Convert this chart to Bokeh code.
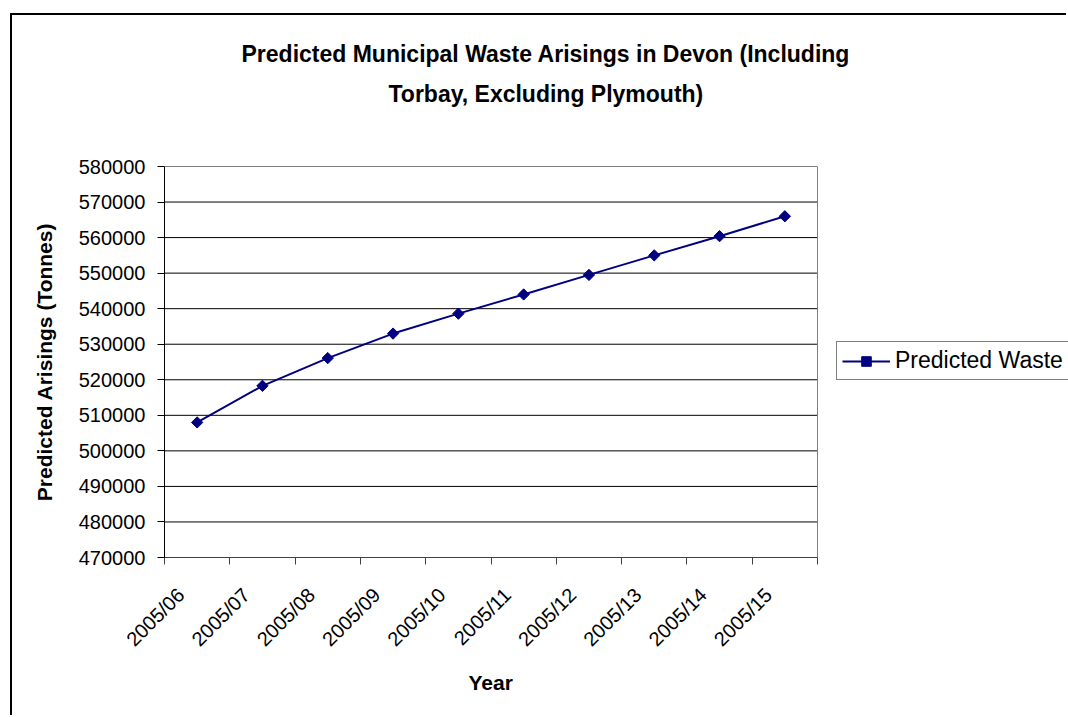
import numpy as np
from bokeh.plotting import figure
from bokeh.models import (Range1d, FixedTicker, Title, Legend, LegendItem,
                          BasicTickFormatter, Span)
from bokeh.embed import file_html
from bokeh.resources import INLINE

# ---- data ----
categories = ["2005/06", "2005/07", "2005/08", "2005/09", "2005/10",
              "2005/11", "2005/12", "2005/13", "2005/14", "2005/15"]
predicted_waste = [508000, 518300, 526100, 533000, 538600,
                   544000, 549500, 555000, 560400, 566000]
y_ticks = [470000, 480000, 490000, 500000, 510000, 520000,
           530000, 540000, 550000, 560000, 570000, 580000]
title_line1 = "Predicted Municipal Waste Arisings in Devon (Including"
title_line2 = "Torbay, Excluding Plymouth)"
x_title = "Year"
y_title = "Predicted Arisings (Tonnes)"
series_name = "Predicted Waste"

FONT = "Liberation Sans"
NAVY = "#000080"

# layout constants (pixels)
PLOT_AREA_W = 653      # width of the bordered plot area
FRAME_W = 904          # frame runs on to the right edge to host the legend

n = len(categories)
centers = [i + 0.5 for i in range(n)]
label_pos = [c - 0.25 for c in centers]
bounds = [float(i) for i in range(n + 1)]
x_end = n * FRAME_W / PLOT_AREA_W

p = figure(width=1056, height=702, output_backend="svg", toolbar_location=None,
           x_range=Range1d(0, x_end), y_range=Range1d(y_ticks[0], y_ticks[-1]),
           min_border_left=152, min_border_right=0,
           min_border_top=151, min_border_bottom=160)
p.margin = (13, 0, 0, 10)
p.styles = {"border-left": "2px solid black", "border-top": "2px solid black"}

p.background_fill_color = "white"
p.border_fill_color = "white"
p.outline_line_color = None

# grid: horizontal lines limited to the plot area
p.xgrid.grid_line_color = None
p.ygrid.grid_line_color = None
p.segment(x0=[0] * len(y_ticks), y0=y_ticks, x1=[n] * len(y_ticks), y1=y_ticks,
          line_color="black", line_width=1)
p.add_layout(Span(location=n, dimension="height", line_color="#808080", line_width=1))

# x axis
xa = p.xaxis[0]
xa.bounds = (0, n)
xa.ticker = FixedTicker(ticks=label_pos, minor_ticks=bounds)
xa.major_label_overrides = {c: lab for c, lab in zip(label_pos, categories)}
xa.major_tick_out = 0
xa.major_tick_in = 0
xa.minor_tick_out = 7
xa.minor_tick_in = 0
xa.minor_tick_line_color = "#404040"
xa.axis_line_color = "#404040"
xa.major_label_orientation = np.pi / 4
xa.major_label_text_font = FONT
xa.major_label_text_font_size = "20px"
xa.major_label_text_color = "black"
xa.major_label_standoff = 27

# x axis title, centred under the plot area
p.add_layout(Title(text=x_title, align="left", offset=304, standoff=15,
                   text_font=FONT, text_font_size="21px", text_font_style="bold",
                   text_color="black"), "below")

# y axis
ya = p.yaxis[0]
ya.ticker = FixedTicker(ticks=y_ticks)
ya.formatter = BasicTickFormatter(use_scientific=False)
ya.major_tick_out = 7
ya.major_tick_in = 0
ya.minor_tick_out = 0
ya.minor_tick_in = 0
ya.major_tick_line_color = "black"
ya.axis_line_color = "black"
ya.major_label_text_font = FONT
ya.major_label_text_font_size = "20px"
ya.major_label_text_color = "black"
ya.major_label_standoff = 12
ya.axis_label = y_title
ya.axis_label_text_font = FONT
ya.axis_label_text_font_style = "bold"
ya.axis_label_text_font_size = "21px"
ya.axis_label_text_color = "black"
ya.axis_label_standoff = 20

# blank spacer between plot and titles
p.add_layout(Title(text=" ", standoff=52, text_font_size="1px"), "above")

# titles (line 2 closest to plot, added first)
p.add_layout(Title(text=title_line2, align="left", offset=224, standoff=10,
                   text_font=FONT, text_font_size="23px", text_font_style="bold",
                   text_color="black"), "above")
p.add_layout(Title(text=title_line1, align="left", offset=77, standoff=14,
                   text_font=FONT, text_font_size="23px", text_font_style="bold",
                   text_color="black"), "above")

# data
line_r = p.line(centers, predicted_waste, line_color=NAVY, line_width=2)
mark_r = p.scatter(centers, predicted_waste, marker="square", angle=np.pi / 4,
                   size=8, fill_color=NAVY, line_color=NAVY)

legend = Legend(items=[LegendItem(label=series_name, renderers=[line_r, mark_r])],
                location=(672, 177), margin=0, padding=5,
                glyph_width=48, glyph_height=24, label_height=24, label_standoff=5,
                label_text_font=FONT, label_text_font_size="23px", label_text_color="black",
                border_line_color="black", border_line_width=1,
                background_fill_color="white", background_fill_alpha=1.0)
p.add_layout(legend, "center")

open("out.html", "w").write(file_html(p, INLINE))
